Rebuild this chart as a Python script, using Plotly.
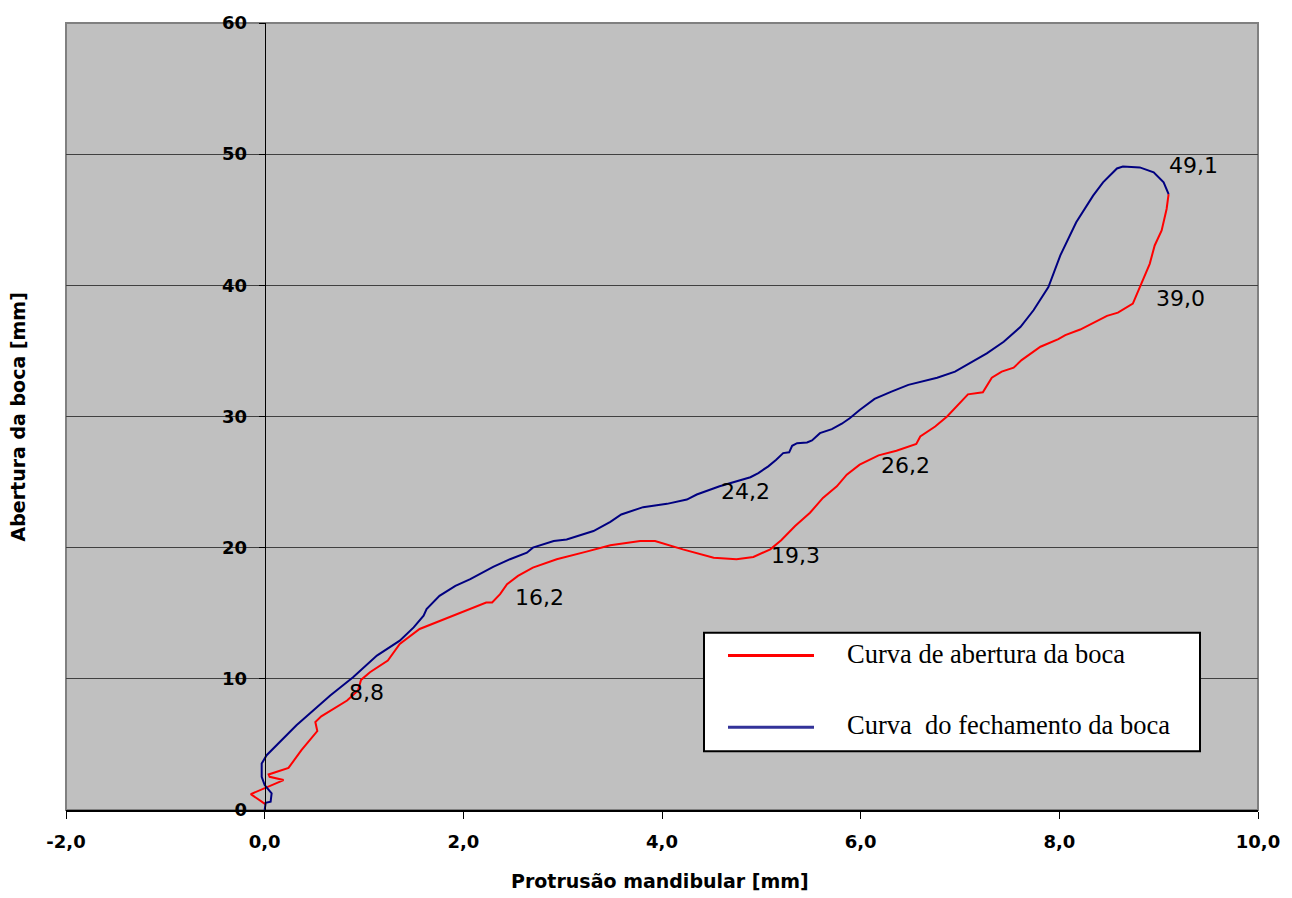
import plotly.graph_objects as go

# ---- data ----
open_x = [0.01, -0.14, 0.19, 0.05, 0.04, 0.24, 0.37, 0.53, 0.51, 0.57, 0.83, 0.94, 0.97, 1.06, 1.24,
          1.36, 1.56, 1.93, 2.23, 2.29, 2.37, 2.44, 2.55, 2.70, 2.94, 3.24, 3.48, 3.78, 3.93, 4.21,
          4.52, 4.75, 4.92, 5.09, 5.20, 5.34, 5.49, 5.62, 5.76, 5.86, 5.99, 6.18, 6.36, 6.56, 6.60,
          6.75, 6.87, 7.08, 7.23, 7.32, 7.42, 7.54, 7.62, 7.81, 7.99, 8.06, 8.21, 8.48, 8.59, 8.74,
          8.81, 8.91, 8.96, 9.03, 9.08, 9.10]
open_y = [0.43, 1.21, 2.28, 2.53, 2.71, 3.21, 4.56, 6.02, 6.71, 7.14, 8.35, 9.11, 9.92, 10.5, 11.39,
          12.66, 13.8, 14.94, 15.82, 15.82, 16.46, 17.22, 17.85, 18.48, 19.12, 19.7, 20.18, 20.51, 20.51, 19.87,
          19.24, 19.12, 19.29, 19.87, 20.56, 21.65, 22.66, 23.79, 24.68, 25.57, 26.33, 27.04, 27.39, 27.9, 28.48,
          29.24, 30.0, 31.69, 31.85, 32.96, 33.42, 33.72, 34.3, 35.32, 35.9, 36.2, 36.63, 37.67, 37.92, 38.61,
          39.87, 41.64, 43.04, 44.18, 45.82, 46.96]

close_x = [9.10, 9.05, 8.95, 8.81, 8.64, 8.58, 8.44, 8.34, 8.17, 8.01, 7.89, 7.74, 7.61, 7.44, 7.27,
           7.10, 6.95, 6.77, 6.48, 6.31, 6.14, 5.99, 5.89, 5.81, 5.71, 5.59, 5.51, 5.46, 5.36, 5.31,
           5.30, 5.28, 5.22, 5.15, 5.07, 4.97, 4.89, 4.58, 4.35, 4.25, 4.05, 3.81, 3.59, 3.48, 3.31,
           3.04, 2.91, 2.70, 2.64, 2.47, 2.30, 2.07, 1.92, 1.76, 1.63, 1.60, 1.50, 1.36, 1.13, 0.89,
           0.66, 0.32, 0.02, -0.03, -0.03, 0.00, 0.07, 0.06, 0.01, 0.00]
close_y = [46.96, 47.85, 48.61, 48.99, 49.06, 48.91, 47.85, 46.84, 44.81, 42.28, 39.87, 38.1, 36.84, 35.7, 34.81,
           34.05, 33.42, 32.96, 32.41, 31.9, 31.34, 30.5, 29.87, 29.45, 29.04, 28.73, 28.18, 28.02, 27.97, 27.77,
           27.6, 27.27, 27.21, 26.7, 26.2, 25.69, 25.37, 24.68, 24.05, 23.67, 23.34, 23.09, 22.53, 21.97, 21.27,
           20.63, 20.51, 20.0, 19.62, 19.12, 18.53, 17.6, 17.09, 16.33, 15.32, 14.81, 13.92, 12.91, 11.77, 10.12,
           8.73, 6.46, 4.18, 3.54, 2.53, 1.90, 1.27, 0.63, 0.55, 0.0]

label_text = ["49,1", "39,0", "26,2", "24,2", "19,3", "16,2", "8,8"]
label_x = [9.35, 9.22, 6.45, 4.84, 5.34, 2.77, 1.03]
label_y = [49.1, 39.0, 26.3, 24.3, 19.4, 16.2, 8.95]

x_tickvals = [-2, 0, 2, 4, 6, 8, 10]
x_ticktext = ["-2,0", "0,0", "2,0", "4,0", "6,0", "8,0", "10,0"]
y_tickvals = [0, 10, 20, 30, 40, 50, 60]
y_ticktext = ["0", "10", "20", "30", "40", "50", "60"]

name_open = "Curva de abertura da boca"
name_close = "Curva\u00a0 do fechamento da boca"

# ---- figure ----
fig = go.Figure()
fig.add_trace(go.Scatter(x=open_x, y=open_y, mode="lines", name=name_open,
                         line=dict(color="#ff0000", width=2)))
fig.add_trace(go.Scatter(x=close_x, y=close_y, mode="lines", name=name_close,
                         line=dict(color="#000080", width=2)))

W, H = 1292, 898
ml, mr, mt, mb = 66, 34, 20, 88
pw, ph = W - ml - mr, H - mt - mb

def px2paper_x(px):
    return (px - ml) / pw

def py2paper_y(py):
    return (H - mb - py) / ph

tick_font = dict(family="DejaVu Sans", size=18, color="black", weight="bold")

fig.update_layout(
    width=W, height=H,
    margin=dict(l=ml, r=mr, t=mt, b=mb),
    paper_bgcolor="white",
    plot_bgcolor="#c0c0c0",
    showlegend=False,
    xaxis=dict(range=[-2, 10], tickvals=x_tickvals, ticktext=x_ticktext,
               showgrid=False, zeroline=False, showline=True, linecolor="black", linewidth=2,
               ticks="outside", ticklen=7, tickcolor="black", tickwidth=1,
               tickfont=tick_font, ticklabelstandoff=7),
    yaxis=dict(range=[0, 60], tickvals=y_tickvals, ticktext=y_ticktext,
               anchor="free", position=1/6,
               showgrid=True, gridcolor="#404040", gridwidth=1,
               zeroline=False, showline=True, linecolor="black", linewidth=1,
               ticks="outside", ticklen=6, tickcolor="black", tickwidth=1,
               tickfont=tick_font, ticklabelstandoff=8),
)

# plot-area frame
fig.add_shape(type="rect", xref="paper", yref="paper", x0=0, x1=1, y0=0, y1=1,
              line=dict(color="#808080", width=2), layer="below")

# axis titles
fig.add_annotation(text="Protrusão mandibular [mm]", xref="paper", yref="paper",
                   x=px2paper_x(660), y=py2paper_y(881), xanchor="center", yanchor="middle",
                   showarrow=False, font=dict(family="DejaVu Sans", size=19, color="black", weight="bold"))
fig.add_annotation(text="Abertura da boca [mm]", xref="paper", yref="paper",
                   x=px2paper_x(18), y=py2paper_y(416), xanchor="center", yanchor="middle",
                   textangle=-90, showarrow=False,
                   font=dict(family="DejaVu Sans", size=19, color="black", weight="bold"))

# value labels
for t, lx, ly in zip(label_text, label_x, label_y):
    fig.add_annotation(text=t, x=lx, y=ly, xref="x", yref="y", showarrow=False,
                       xanchor="center", yanchor="middle",
                       font=dict(family="DejaVu Sans", size=22, color="black"))

# legend box (drawn manually to match original layout)
fig.add_shape(type="rect", xref="paper", yref="paper",
              x0=px2paper_x(704), x1=px2paper_x(1200), y0=py2paper_y(751), y1=py2paper_y(632),
              fillcolor="white", line=dict(color="black", width=2), layer="above")
legend_items = [(name_open, "#ff0000", 655), (name_close, "#333399", 727)]
for nm, col, yy in legend_items:
    fig.add_shape(type="line", xref="paper", yref="paper",
                  x0=px2paper_x(728), x1=px2paper_x(814), y0=py2paper_y(yy), y1=py2paper_y(yy),
                  line=dict(color=col, width=3), layer="above")
    fig.add_annotation(text=nm, xref="paper", yref="paper", x=px2paper_x(845), y=py2paper_y(yy - 2),
                       xanchor="left", yanchor="middle", showarrow=False,
                       font=dict(family="Liberation Serif", size=26.5, color="black"))

fig.write_html("out.html")
